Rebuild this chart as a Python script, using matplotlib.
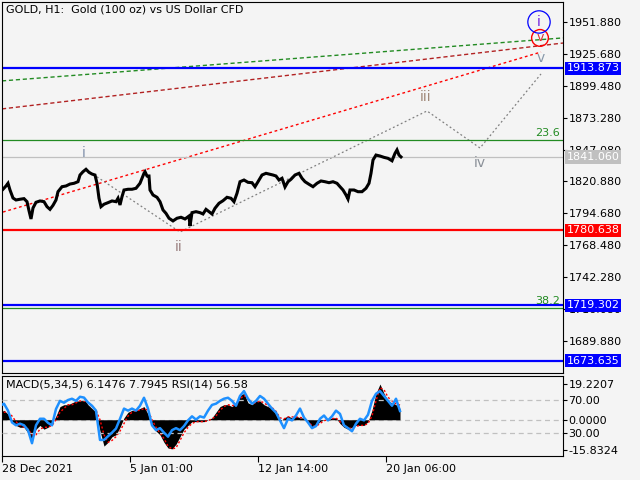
import numpy as np
import matplotlib
matplotlib.use('Agg')
import matplotlib.pyplot as plt
import matplotlib.transforms as mtrans

# price (close), x = bar position
px = [3, 6, 8, 10, 13, 16, 20, 24, 27, 29, 31, 33, 36, 40, 44, 47, 50, 53, 56, 58,
      62, 66, 70, 74, 78, 80, 83, 86, 89, 92, 95, 97, 99, 101, 104, 108, 112, 116, 118, 120,
      122, 124, 128, 132, 136, 140, 144, 145, 147, 149, 150, 153, 157, 160, 163, 166, 169, 173, 177, 181,
      185, 189, 190, 192, 196, 200, 203, 206, 209, 212, 215, 219, 223, 227, 231, 234, 237, 240, 244, 248,
      252, 255, 258, 262, 266, 270, 273, 276, 279, 282, 285, 288, 291, 295, 299, 302, 305, 309, 313, 317,
      321, 325, 329, 333, 337, 340, 343, 346, 348, 350, 354, 358, 362, 366, 369, 371, 373, 376, 380, 384,
      388, 392, 395, 397, 399, 401]
price = [1814.5, 1817.2, 1819.4, 1813.9, 1807.3, 1805.7, 1806.3, 1806.8, 1804.3, 1796.9,
         1790.1, 1799.1, 1803.8, 1804.9, 1804.3, 1800.2, 1798.0, 1801.3, 1805.7, 1812.5,
         1816.6, 1817.2, 1818.8, 1819.4, 1820.7, 1826.2, 1828.9, 1830.9, 1828.4, 1827.0,
         1826.2, 1819.4, 1807.1, 1800.2, 1802.2, 1803.5, 1804.9, 1804.3, 1807.1, 1801.6,
         1808.4, 1813.9, 1814.5, 1814.5, 1815.3, 1819.4, 1827.6, 1828.9, 1825.4, 1825.4,
         1813.9, 1809.8, 1807.9, 1804.3, 1797.5, 1794.7, 1790.7, 1788.5, 1790.7, 1791.5,
         1790.1, 1792.5, 1784.3, 1795.3, 1796.1, 1795.3, 1794.2, 1798.0, 1796.1, 1794.2,
         1798.9, 1803.0, 1805.1, 1807.9, 1807.1, 1804.3, 1811.2, 1820.7, 1822.1, 1820.2,
         1819.9, 1816.6, 1820.7, 1826.2, 1827.6, 1826.8, 1826.2, 1825.4, 1822.1, 1823.5,
         1816.4, 1820.7, 1822.7, 1826.2, 1827.6, 1823.5, 1820.7, 1818.6, 1816.6, 1819.4,
         1821.3, 1820.7, 1819.9, 1820.7, 1819.4, 1816.6, 1813.9, 1809.8, 1806.5, 1813.9,
         1813.9, 1812.5, 1812.5, 1815.3, 1819.4, 1827.6, 1838.5, 1842.6, 1841.8, 1840.7,
         1839.9, 1837.9, 1844.0, 1846.8, 1842.6, 1841.06]

# wave count path (gray dotted)
wave_x = [86, 180, 427, 480, 541]
wave_y = [1830.7, 1779.4, 1878.8, 1848.4, 1909.2]
wave_lbl = ['i', 'ii', 'iii', 'iv', 'v']
wave_lbl_x = [84, 179, 426, 480, 541]
wave_lbl_y = [1844.3, 1767.1, 1890.3, 1836.1, 1922.3]
wave_lbl_c = ['#7f90aa', '#9a8080', '#a08878', '#8a9098', '#8898aa']

# levels
hlines = [1913.873, 1780.638, 1719.302, 1673.635]
hcolors = ['#0000ff', '#ff0000', '#0000ff', '#0000ff']
fib_levels = [1855.0, 1716.9]
fib_text = ['23.6', '38.2']
last_price = 1841.06

# trend lines (x0, x1), (p0, p1)
tl_green = ([2, 563], [1903.5, 1938.8])
tl_dkred = ([2, 563], [1880.5, 1934.6])
tl_red = ([3, 541], [1795.8, 1927.2])

# indicators sampled every 4 bars
ix = list(range(0, 401, 4))
macd = [4, 5, 3, -1, -3, -4, -4, -7, -11, -5, -3, -5, -4, -2, 2, 7, 8, 8, 9, 10,
        10, 11, 8, 6, 4, -6, -14, -12, -9, -8, -4, 1, 4, 5, 5, 6, 7, 3, -3, -6,
        -8, -12, -15, -15.5, -13, -9, -5, -3, -1, -1, -1, -1, 0, 1, 4, 7, 8, 8, 7, 9,
        13, 14, 9, 8, 10, 10, 8, 7, 6, 3, -1, 1, 2, 1, 2, 1, 1, -2, -4, -3,
        -1, 0, 0, 1, 1, -2, -4, -5, -4, -3, -3, -3, -1, 5, 14, 19, 14, 10, 9, 8, 6]
signal = [3, 4, 4, 2, -1, -3, -4, -5, -8, -8, -5, -4, -4, -3, 0, 4, 6, 8, 8, 9,
          10, 10, 9, 7, 5, 0, -8, -12, -11, -9, -6, -2, 2, 4, 5, 5, 6, 5, 0, -4,
          -7, -10, -14, -15.5, -15, -11, -7, -4, -2, -1, -1, -1, -0.5, 0.5, 2, 5, 7, 8, 7.5, 8,
          11, 13, 11, 9, 9, 10, 9, 7.5, 6.5, 4.5, 1, 0.5, 1.5, 1.5, 1.5, 1.2, 1, -1, -3, -3.5,
          -2, -0.5, 0, 0.5, 1, -1, -3, -4.5, -4.5, -3.5, -3, -3, -2, 2, 10, 17, 16, 12, 10, 8.5, 7.7945]
rsi = [63, 65.5, 57, 42.5, 39, 41, 39, 33, 17, 39, 47, 47, 42, 39, 59, 69, 66.7, 70, 71.6, 69,
       74, 73, 67, 63, 57, 21, 21, 25.5, 30, 35, 47, 59.5, 57, 59.5, 57, 63, 72.8, 59.5, 39, 33,
       35.5, 30, 25, 33, 35.5, 33, 38, 45, 50, 46, 50, 48.5, 57, 64, 65.5, 69, 71.6, 72.8, 69, 63,
       75, 81, 71.6, 65.5, 69, 75, 71.6, 65.5, 59.5, 54.6, 45, 35.5, 47, 45, 51, 59.5, 48.5, 42.5, 35.5, 38,
       47, 51, 45, 50, 57, 53, 39, 35.5, 31.7, 41, 47, 45, 52, 69, 77.7, 81, 75, 69, 63, 71.6, 56.58]

date_pos = [2, 130, 258, 386]
date_lbl = ['28 Dec 2021', '5 Jan 01:00', '12 Jan 14:00', '20 Jan 06:00']
price_ticks = [1951.88, 1925.68, 1899.48, 1873.28, 1847.08, 1820.88, 1794.68, 1768.48, 1742.28, 1716.08, 1689.88]

bg = '#f4f4f4'
fig = plt.figure(figsize=(6.4, 4.8), dpi=100, facecolor=bg)
ax = fig.add_axes([2/640, 1-373/480, 561/640, 371/480], facecolor=bg)
ax2 = fig.add_axes([2/640, 1-456/480, 561/640, 80/480], facecolor=bg)

ax.set_xlim(2, 563)
ax.set_ylim(1663.6, 1968.3)
ax2.set_xlim(2, 563)

# main panel
ax.plot(tl_green[0], tl_green[1], color='#228b22', lw=1, ls=(0, (3, 2)))
ax.plot(tl_dkred[0], tl_dkred[1], color='#b22222', lw=1, ls=(0, (3, 2)))
ax.plot(tl_red[0], tl_red[1], color='#ff0000', lw=1, ls=(0, (2, 2)))
ax.plot(wave_x, wave_y, color='#808080', lw=0.9, ls=(0, (1.5, 2)))
for p in fib_levels:
    ax.axhline(p, color='#228b22', lw=0.9)
ax.axhline(last_price, color='#c0c0c0', lw=0.9)
for p, c in zip(hlines, hcolors):
    ax.axhline(p, color=c, lw=1.6)
ax.plot(px, price, color='black', lw=2.2, solid_joinstyle='miter')

for p, t in zip(fib_levels, fib_text):
    ax.text(560, p + 2, t, color='#228b22', fontsize=8, ha='right', va='bottom')
for x, y, t, c in zip(wave_lbl_x, wave_lbl_y, wave_lbl, wave_lbl_c):
    ax.text(x, y, t, color=c, fontsize=10, ha='center', va='center')
ax.text(540, 1938.8, 'v', color='#e03030', fontsize=9, ha='center', va='center',
        bbox=dict(boxstyle='circle,pad=0.15', fc='none', ec='#ff0000', lw=1))
ax.text(539, 1951.9, 'i', color='#7020e0', fontsize=10, ha='center', va='center',
        bbox=dict(boxstyle='circle,pad=0.3', fc='none', ec='#0000ff', lw=0.9))

ax.text(0.008, 0.993, 'GOLD, H1:  Gold (100 oz) vs US Dollar CFD', transform=ax.transAxes,
        fontsize=8, va='top', ha='left')

ax.yaxis.tick_right()
ax.set_yticks(price_ticks)
ax.set_yticklabels(['%.3f' % v for v in price_ticks])
ax.tick_params(axis='y', labelsize=8, length=3, pad=1)
ax.set_xticks([])

tr = mtrans.blended_transform_factory(ax.transAxes, ax.transData)
boxes = [(1913.873, '#0000ff'), (1780.638, '#ff0000'), (1719.302, '#0000ff'),
         (1673.635, '#0000ff'), (last_price, '#c0c0c0')]
for p, c in boxes:
    ax.text(1.006, p, '%.3f' % p, transform=tr, color='white', fontsize=8, va='center',
            ha='left', clip_on=False, zorder=5,
            bbox=dict(boxstyle='square,pad=0.15', fc=c, ec='none'))

# indicator panel
ax2.set_ylim(-19.27, 23.27)
ax2.fill_between(ix, 0, macd, color='black', lw=0)
ax2.plot(ix, signal, color='#ff0000', lw=1, ls=(0, (1.5, 1.5)))
ax3 = ax2.twinx()
ax3.set_ylim(1.3, 99.5)
ax3.set_xlim(2, 563)
ax3.axhline(70, color='#c0c0c0', lw=0.9, ls=(0, (4, 3)))
ax3.axhline(30, color='#c0c0c0', lw=0.9, ls=(0, (4, 3)))
ax2.axhline(0, color='#c0c0c0', lw=0.9, ls=(0, (4, 3)), zorder=0)
ax3.plot(ix, rsi, color='#1e90ff', lw=1.8)
ax3.text(0.008, 0.96, 'MACD(5,34,5) 6.1476 7.7945 RSI(14) 56.58', transform=ax3.transAxes,
         fontsize=8, va='top', ha='left')

ax2.yaxis.tick_right()
ax2.set_yticks([19.2207, 0, -15.8324])
ax2.set_yticklabels(['19.2207', '0.0000', '-15.8324'])
ax2.tick_params(axis='y', labelsize=8, length=3, pad=1)
ax3.set_yticks([70, 30])
ax3.set_yticklabels(['70.00', '30.00'])
ax3.tick_params(axis='y', labelsize=8, length=3, pad=1)
for s in ax3.spines.values():
    s.set_visible(False)

ax2.set_xticks(date_pos)
ax2.set_xticklabels(date_lbl, ha='left')
ax2.tick_params(axis='x', labelsize=8, length=4, pad=2)

fig.savefig('out.png', dpi=100, facecolor=bg)
